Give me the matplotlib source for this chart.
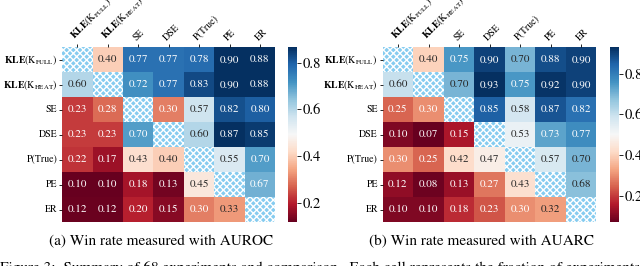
import numpy as np
import matplotlib
matplotlib.use("Agg")
import matplotlib.pyplot as plt
import seaborn as sns
from matplotlib.patches import Rectangle

plt.rcParams['font.family'] = ['STIXGeneral', 'DejaVu Serif']
plt.rcParams['mathtext.fontset'] = 'stix'

labels = [r'$\mathbf{KLE}(\mathrm{K}_{\mathrm{FULL}})$',
          r'$\mathbf{KLE}(\mathrm{K}_{\mathrm{HEAT}})$',
          'SE', 'DSE', 'P(True)', 'PE', 'ER']

# win rates, AUROC (row method vs column method), diagonal left empty
auroc = np.array([
    [np.nan, 0.40, 0.77, 0.77, 0.78, 0.90, 0.88],
    [0.60, np.nan, 0.72, 0.77, 0.83, 0.90, 0.88],
    [0.23, 0.28, np.nan, 0.30, 0.57, 0.82, 0.80],
    [0.23, 0.23, 0.70, np.nan, 0.60, 0.87, 0.85],
    [0.22, 0.17, 0.43, 0.40, np.nan, 0.55, 0.70],
    [0.10, 0.10, 0.18, 0.13, 0.45, np.nan, 0.67],
    [0.12, 0.12, 0.20, 0.15, 0.30, 0.33, np.nan],
])

# win rates, AUARC
auarc = np.array([
    [np.nan, 0.40, 0.75, 0.90, 0.70, 0.88, 0.90],
    [0.60, np.nan, 0.70, 0.93, 0.75, 0.92, 0.90],
    [0.25, 0.30, np.nan, 0.85, 0.58, 0.87, 0.82],
    [0.10, 0.07, 0.15, np.nan, 0.53, 0.73, 0.77],
    [0.30, 0.25, 0.42, 0.47, np.nan, 0.57, 0.70],
    [0.12, 0.08, 0.13, 0.27, 0.43, np.nan, 0.68],
    [0.10, 0.10, 0.18, 0.23, 0.30, 0.32, np.nan],
])

captions = ['(a) Win rate measured with AUROC', '(b) Win rate measured with AUARC']
limits = [(0.117, 0.866), (0.07, 0.93)]

fig = plt.figure(figsize=(6.4, 2.66), dpi=100)

hm_pos = [[0.097, 0.165, 0.333, 0.658], [0.598, 0.165, 0.334, 0.658]]
cb_pos = [[0.450, 0.165, 0.014, 0.658], [0.953, 0.165, 0.014, 0.658]]
cap_x = [0.252, 0.753]

for k, data in enumerate([auroc, auarc]):
    ax = fig.add_axes(hm_pos[k])
    cax = fig.add_axes(cb_pos[k])
    n = data.shape[0]
    sns.heatmap(data, ax=ax, cbar_ax=cax, cmap='RdBu', vmin=limits[k][0], vmax=limits[k][1],
                annot=True, fmt='.2f', annot_kws={'size': 8}, mask=np.isnan(data),
                xticklabels=labels, yticklabels=labels)
    for i in range(n):
        ax.add_patch(Rectangle((i, i), 1, 1, facecolor='#86ccf0', edgecolor='white',
                               hatch='xxxxx', lw=0))
    ax.xaxis.tick_top()
    ax.set_xticklabels(labels, rotation=45, ha='left', rotation_mode='anchor', fontsize=7)
    ax.set_yticklabels(labels, rotation=0, fontsize=7)
    ax.tick_params(length=2.5, width=0.6, pad=1)
    cax.tick_params(labelsize=10.5, length=3, width=0.6, pad=1)
    cax.set_yticks([0.2, 0.4, 0.6, 0.8])
    fig.text(cap_x[k], 0.091, captions[k], ha='center', va='center', fontsize=11)

fig.text(0.0, 0.017, 'Figure 3:  Summary of 68 experiments and comparison.  Each cell represents the fraction of experiments in which',
         ha='left', va='top', fontsize=11)

fig.savefig('out.png', dpi=100)
